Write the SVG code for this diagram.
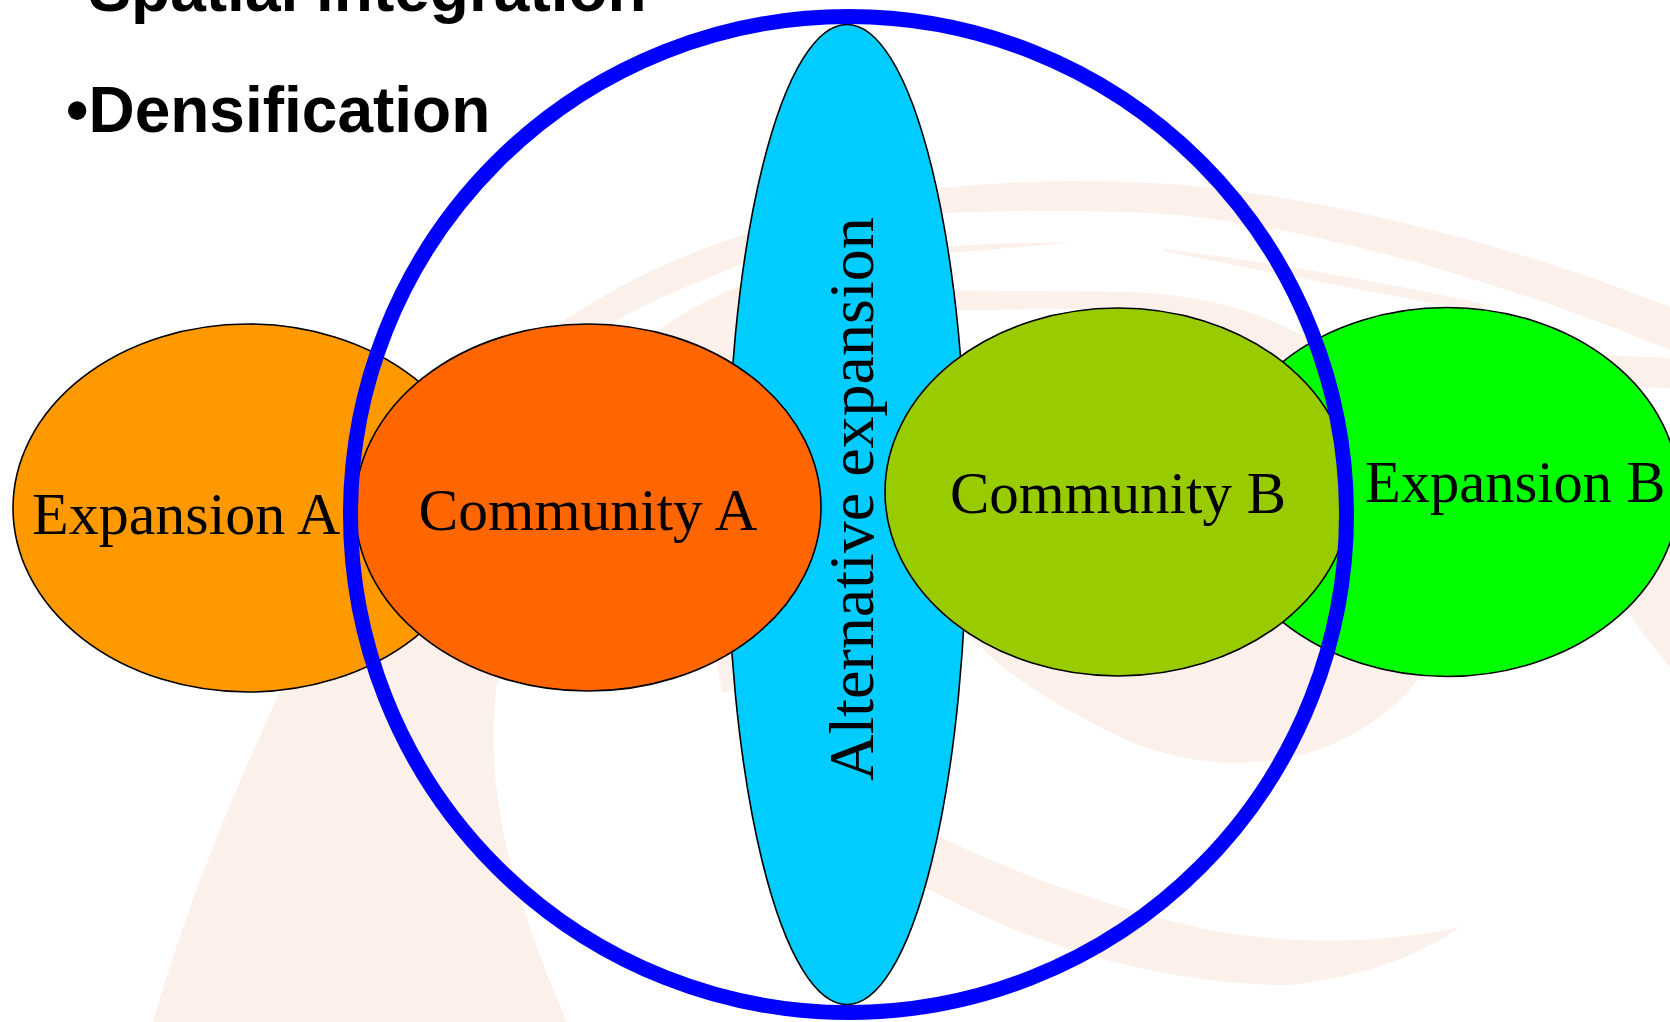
<svg xmlns="http://www.w3.org/2000/svg" width="1670" height="1022" viewBox="0 0 1670 1022">
<style>
.bg{fill:#FBF0EA;stroke:none}
.node{stroke:#000;stroke-width:1.6}
.lbl{font-family:"Liberation Serif","Times New Roman",serif;font-size:59px;fill:#000}
.alt{font-family:"Liberation Serif","Times New Roman",serif;font-size:64px;fill:#000}
.head{font-family:"Liberation Sans",Arial,sans-serif;font-weight:bold;font-size:64px;fill:#000}
</style>
<rect width="1670" height="1022" fill="#fff"/>
<g id="background">
<path class="bg" d="M153,1022 C185,910 230,800 280,692 C340,570 430,440 540,340 L620,345 L640,450 L560,600 L497,683 C488,760 492,850 567,1022 Z"/>
<path class="bg" d="M520,352 C600,290 680,255 743,235 C830,205 900,192 943,188 C1020,180 1090,180 1150,183 C1300,190 1500,240 1670,307 L1670,350 C1500,280 1300,222 1150,213 C1080,210 1010,210 947,213 C870,222 800,240 740,265 C690,285 640,305 613,323 C590,338 570,355 560,370 Z"/>
<path class="bg" d="M600,380 C640,340 690,305 735,288 C800,272 880,288 953,290 C1020,292 1090,290 1150,293 C1210,298 1260,312 1300,335 C1400,350 1550,352 1670,358 L1670,388 C1560,385 1450,380 1320,372 L1150,310 C1080,308 1010,310 953,310 C900,312 850,318 780,345 L700,430 Z"/>
<path class="bg" d="M940,247 C990,243 1030,242 1070,243 C1030,246 990,250 940,253 Z"/>
<path class="bg" d="M1163,249 C1260,260 1380,282 1485,304 L1480,312 C1380,294 1260,270 1163,251 Z"/>
<path class="bg" d="M700,560 L760,520 L1000,560 L1300,600 L1440,600 L1420,677 C1395,710 1360,735 1317,750 C1260,768 1200,768 1133,743 C1030,695 990,660 960,625 C900,640 800,680 722,692 Z"/>
<path class="bg" d="M1600,560 L1627,610 C1640,630 1655,650 1670,667 L1670,520 Z"/>
<path class="bg" d="M880,805 C960,850 1060,895 1200,928 C1280,945 1380,945 1460,927 C1420,955 1370,975 1290,985 C1180,985 1060,955 960,905 L880,865 Z"/>
</g>
<g id="expansion-a">
<ellipse class="node" cx="248" cy="508" rx="235" ry="184" fill="#FF9900"/>
<text class="lbl" x="32" y="534" style="font-size:60px">Expansion A</text>
</g>
<g id="expansion-b">
<ellipse class="node" cx="1447" cy="492" rx="232" ry="184.5" fill="#00FF00"/>
<text class="lbl" x="1365" y="502" style="font-size:58.5px">Expansion B</text>
</g>
<g id="alternative-expansion">
<ellipse class="node" cx="847" cy="514.5" rx="120" ry="490" fill="#00CCFF"/>
<text class="alt" text-anchor="middle" transform="translate(873,499) rotate(-90)">Alternative expansion</text>
</g>
<g id="community-a">
<ellipse class="node" cx="588" cy="507.5" rx="233" ry="183.5" fill="#FF6600"/>
<text class="lbl" x="588" y="530" text-anchor="middle" style="font-size:59.5px">Community A</text>
</g>
<g id="community-b">
<ellipse class="node" cx="1118" cy="492" rx="233" ry="184" fill="#99CC00"/>
<text class="lbl" x="1118" y="513" text-anchor="middle">Community B</text>
</g>
<g id="boundary">
<circle cx="848.5" cy="514.5" r="498" fill="none" stroke="#0000FF" stroke-width="15"/>
</g>
<g id="connectors"></g>
<g id="heading">
<text class="head" x="66" y="11">•Spatial integration</text>
<text class="head" x="66" y="132">•Densification</text>
</g>
</svg>
